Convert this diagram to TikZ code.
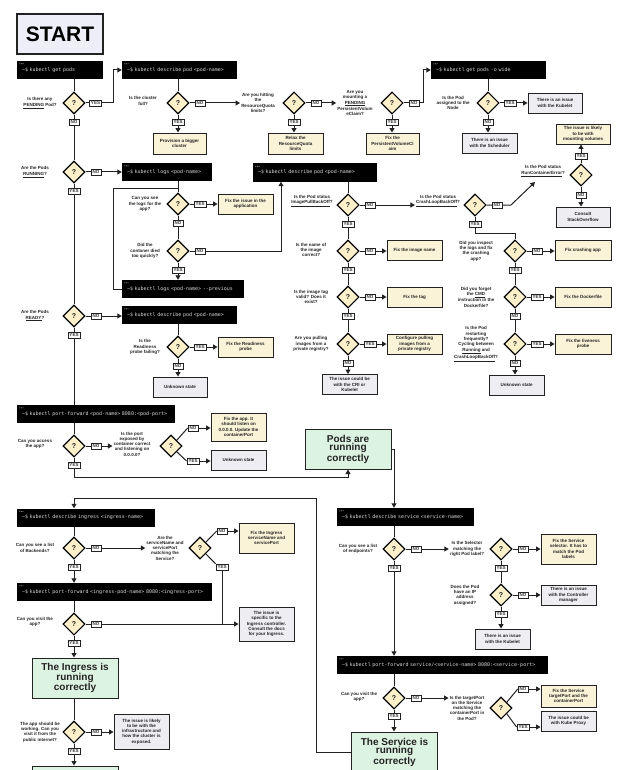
\documentclass[tikz,border=0pt]{standalone}
\usepackage{fontspec}
\setmainfont{Liberation Sans}
\setmonofont{DejaVu Sans Mono}
\usetikzlibrary{arrows.meta,shapes.geometric,calc}
\pgfdeclarelayer{bg}
\pgfdeclarelayer{back}
\pgfsetlayers{back,bg,main}
\definecolor{ink}{HTML}{222222}
\definecolor{qfill}{HTML}{FBF0C9}
\definecolor{fixfill}{HTML}{FBF3D7}
\definecolor{grayfill}{HTML}{EDEDF2}
\definecolor{greenfill}{HTML}{DDF3E2}
\definecolor{startfill}{HTML}{EEEEF8}
\tikzset{
  ln/.style={draw=ink, line width=1pt},
  arr/.style={ln, -{Triangle[length=4.5pt,width=5pt]}},
  q/.style={diamond, draw=black, line width=1.1pt, fill=qfill, minimum width=22pt, minimum height=22pt, inner sep=0pt, font=\bfseries\fontsize{7}{7}\selectfont, text=ink},
  cmd/.style={fill=black, text=white!85!black, font=\ttfamily\fontsize{5}{5}\selectfont, align=left, inner xsep=5pt, inner ysep=0pt, minimum height=18pt},
  res/.style={draw=ink, line width=0.9pt, align=center, inner sep=1pt, font=\bfseries\fontsize{4.5}{5.3}\selectfont, text=ink, minimum height=20pt, minimum width=55pt},
  fix/.style={res, fill=fixfill},
  iss/.style={res, fill=grayfill},
  ok/.style={draw=ink, line width=1pt, fill=greenfill, align=center, font=\bfseries\fontsize{10}{8.6}\selectfont, text=ink, minimum width=86pt, minimum height=40pt, inner sep=0pt},
  ques/.style={align=center, inner sep=1pt, font=\bfseries\fontsize{4.5}{5.3}\selectfont, text=ink},
  yn/.style={draw=ink, fill=white, line width=0.7pt, inner xsep=1.6pt, inner ysep=1.3pt, font=\bfseries\fontsize{4.5}{4.5}\selectfont, text=ink!90},
}
\begin{document}
\begin{tikzpicture}[x=1pt,y=-1pt]
\begin{pgfonlayer}{back}
\fill[white] (0,0) rectangle (633,770);
\end{pgfonlayer}
\useasboundingbox (0,0) rectangle (633,770);

% START
\node[draw=ink, line width=1.3pt, fill=startfill, minimum width=86pt, minimum height=40pt, font=\bfseries\fontsize{21}{21}\selectfont, text=black] (st) at (60,34) {START};

% command boxes
\node[cmd, text width=76pt] (c1) at (60,70) {\textasciitilde\$ kubectl get pods};
\node[cmd, text width=105pt] (c2) at (179.5,70) {\textasciitilde\$ kubectl describe pod <pod-name>};
\node[cmd, text width=105pt] (c3) at (488.5,70) {\textasciitilde\$ kubectl get pods -o wide};
\node[cmd, text width=80pt] (c4) at (167,172) {\textasciitilde\$ kubectl logs <pod-name>};
\node[cmd, text width=114pt] (c5) at (315,172.5) {\textasciitilde\$ kubectl describe pod <pod-name>};
\node[cmd, text width=112pt] (c6) at (183,289) {\textasciitilde\$ kubectl logs <pod-name> -{}-previous};
\node[cmd, text width=105pt] (c7) at (179.5,315) {\textasciitilde\$ kubectl describe pod <pod-name>};
\node[cmd, text width=148pt] (c8) at (96,414) {\textasciitilde\$ kubectl port-forward <pod-name> 8080:<pod-port>};
\node[cmd, text width=128pt] (c9) at (86,517.5) {\textasciitilde\$ kubectl describe ingress <ingress-name>};
\node[cmd, text width=185pt] (c10) at (114.5,592) {\textasciitilde\$ kubectl port-forward <ingress-pod-name> 8080:<ingress-port>};
\node[cmd, text width=127pt] (c11) at (405.5,517) {\textasciitilde\$ kubectl describe service <service-name>};
\node[cmd, text width=201pt] (c12) at (442.5,665) {\textasciitilde\$ kubectl port-forward service/<service-name> 8080:<service-port>};
\foreach \c in {c1,c2,c3,c4,c5,c6,c7,c8,c9,c10,c11,c12}
  \foreach \i in {0,1,2}
    \fill[white!60!black] ($(\c.north west)+(3+1.6*\i,3)$) circle (0.55pt);

% diamonds
\foreach \n/\x/\y in {d1/74/103, d2/178/103, d3/294/103, d4/392/103, d5/488/103,
  d6/74/172, d7/178/204, d8/178/251, d9/74/316, d10/178/347,
  d11/348/205, d12/348/251, d13/348/297, d14/348/344,
  d15/475/205, d16/581/175, d17/515/251, d18/515/297, d19/515/344,
  d20/74/446, d21/171/446, d22/74/548, d23/200/548, d24/74/624, d25/74/732,
  d26/394/549, d27/501/549, d28/501/595, d29/394/698, d30/501/708}
  \node[q] (\n) at (\x,\y) {?};

% questions
\node[ques] (q1) at (40,103) {Is there any\\\underline{PENDING} Pod?};
\node[ques] (q2) at (143,101) {Is the cluster\\full?};
\node[ques] (q3) at (258,103) {Are you hitting\\the\\ResourceQuota\\limits?};
\node[ques] (q4) at (355,103) {Are you\\mounting a\\\underline{PENDING}\\PersistentVolum\\eClaim?};
\node[ques] (q5) at (453,103) {Is the Pod\\assigned to the\\Node};
\node[ques] (q6) at (35,172) {Are the Pods\\\underline{RUNNING}?};
\node[ques] (q7) at (145,204) {Can you see\\the logs for the\\app?};
\node[ques] (q8) at (145,251) {Did the\\contaner died\\too quickly?};
\node[ques] (q9) at (35,316) {Are the Pods\\\underline{READY}?};
\node[ques] (q10) at (145,347) {Is the\\Readiness\\probe failing?};
\node[ques] (q11) at (312,201) {Is the Pod status\\\underline{ImagePullBackOff}?};
\node[ques] (q12) at (311,250) {Is the name of\\the image\\correct?};
\node[ques] (q13) at (311,297) {Is the image tag\\valid? Does it\\exist?};
\node[ques] (q14) at (311,344) {Are you pulling\\images from a\\private registry?};
\node[ques] (q15) at (438,201) {Is the Pod status\\\underline{CrashLoopBackOff}?};
\node[ques] (q16) at (543,171) {Is the Pod status\\\underline{RunContainerError}?};
\node[ques] (q17) at (476,251) {Did you inspect\\the logs and fix\\the crashing\\app?};
\node[ques] (q18) at (476,297) {Did you forget\\the \underline{CMD}\\instruction in the\\Dockerfile?};
\node[ques] (q19) at (476,344) {Is the Pod\\restarting\\frequently?\\Cycling between\\\underline{Running} and\\\underline{CrashLoopBackOff}?};
\node[ques] (q20) at (35,444) {Can you access\\the app?};
\node[ques] (q21) at (132,444) {Is the port\\exposed by\\container correct\\and listening on\\0.0.0.0?};
\node[ques] (q22) at (35,548) {Can you see a list\\of Backends?};
\node[ques] (q23) at (165,548) {Are the\\serviceName and\\servicePort\\matching the\\Service?};
\node[ques] (q24) at (35,622) {Can you visit the\\app?};
\node[ques] (q25) at (40,732) {The app should be\\working. Can you\\visit it from the\\public internet?};
\node[ques] (q26) at (358,549) {Can you see a list\\of endpoints?};
\node[ques] (q27) at (467,549) {Is the Selector\\matching the\\right Pod label?};
\node[ques] (q28) at (465,595) {Does the Pod\\have an IP\\address\\assigned?};
\node[ques] (q29) at (359,697) {Can you visit the\\app?};
\node[ques] (q30) at (467,708) {Is the targetPort\\on the Service\\matching the\\containerPort in\\the Pod?};

% results
\node[fix, minimum width=53pt, minimum height=21pt] (r1) at (179.5,143.5) {Provision a bigger\\cluster};
\node[fix, minimum height=21pt] (r2) at (295.5,143.5) {Relax the\\ResourceQuota\\limits};
\node[fix, minimum width=53pt, minimum height=21pt] (r3) at (392.5,143.5) {Fix the\\PersistentVolumeCl\\aim};
\node[iss, minimum width=54pt] (r4) at (555,103) {There is an issue\\with the Kubelet};
\node[iss] (r5) at (489.5,143) {There is an issue\\with the Scheduler};
\node[fix, minimum width=54pt] (r6) at (583,134) {The issue is likely\\to be with\\mounting volumes};
\node[iss, minimum width=54pt] (r7) at (583,217) {Consult\\StackOverflow};
\node[fix] (r8) at (245.5,204) {Fix the issue in the\\application};
\node[fix] (r9) at (245.5,347) {Fix the Readiness\\probe};
\node[iss, minimum width=54pt] (r10) at (180,387) {Unknown state};
\node[fix] (r11) at (414.5,250) {Fix the image name};
\node[fix] (r12) at (414.5,297) {Fix the tag};
\node[fix] (r13) at (414.5,344) {Configure pulling\\images from a\\private registry};
\node[iss] (r14) at (349.5,384.5) {The issue could be\\with the CRI or\\Kubelet};
\node[fix, minimum width=56pt] (r15) at (583,250) {Fix crashing app};
\node[fix, minimum width=56pt] (r16) at (583,297) {Fix the Dockerfile};
\node[fix, minimum width=56pt] (r17) at (583,344) {Fix the liveness\\probe};
\node[iss] (r18) at (516.5,385) {Unknown state};
\node[fix, minimum height=28pt] (r19) at (238.5,427) {Fix the app. It\\should listen on\\0.0.0.0. Update the\\containerPort};
\node[iss] (r20) at (238.5,460) {Unknown state};
\node[ok] (r21) at (348,449) {Pods are\\running\\correctly};
\node[fix, minimum height=30pt] (r22) at (266.5,538) {Fix the Ingress\\serviceName and\\servicePort};
\node[iss, minimum height=34pt] (r23) at (266.5,624) {The issue is\\specific to the\\Ingress controller.\\Consult the docs\\for your Ingress.};
\node[ok] (r24) at (75,678) {The Ingress is\\running\\correctly};
\node[iss, minimum height=35pt] (r25) at (141.5,731.5) {The issue is likely\\to be with the\\infrastructure and\\how the cluster is\\exposed.};
\node[ok] (r26) at (75,786) {};
\node[fix, minimum height=30pt] (r27) at (568.5,549) {Fix the Service\\selector. It has to\\match the Pod\\labels};
\node[iss] (r28) at (568.5,595) {There is an issue\\with the Controller\\manager};
\node[iss] (r29) at (502.5,639) {There is an issue\\with the Kubelet};
\node[fix, minimum height=22pt] (r30) at (568.5,696) {Fix the Service\\targetPort and the\\containerPort};
\node[iss] (r31) at (568.5,721) {The issue could be\\with Kube Proxy};
\node[ok] (r32) at (394.5,752) {The Service is\\running\\correctly};

% yes / no labels
\foreach \n/\t/\x/\y in {l1/YES/95.5/103, l2/NO/74/122, l3/YES/178/122, l4/NO/200/103,
  l5/YES/294/122, l6/NO/316/103, l7/YES/392/122, l8/NO/414/103, l9/YES/510/103, l10/NO/488/122,
  l11/NO/96/172, l12/YES/74/191, l13/YES/200/204, l14/NO/178/223, l15/NO/200/251, l16/YES/178/270,
  l17/NO/96/316, l18/YES/74/335, l19/YES/200/347, l20/NO/178/366,
  l21/NO/370/205, l22/YES/348/224, l23/NO/370/251, l24/YES/348/270, l25/NO/370/297, l26/YES/348/316,
  l27/YES/370/344, l28/NO/348/363, l29/NO/497/205, l30/YES/475/224, l31/YES/581/156, l32/NO/581/195,
  l33/NO/537/251, l34/YES/515/270, l35/YES/537/297, l36/NO/515/316, l37/YES/537/344, l38/NO/515/363,
  l39/NO/96/446, l40/YES/74/465, l41/NO/193/428, l42/YES/193/461,
  l43/NO/96/548, l44/YES/74/567, l45/NO/222/531, l46/YES/222/567,
  l47/NO/96/624, l48/YES/74/643, l49/NO/96/732, l50/YES/74/751,
  l51/NO/416/549, l52/YES/394/568, l53/NO/523/549, l54/YES/501/568, l55/NO/523/595, l56/YES/501/614,
  l57/NO/416/698, l58/YES/394/716, l59/NO/523/689, l60/YES/523/727}
  \node[yn] (\n) at (\x,\y) {\t};

% free coordinates
\coordinate (k1) at (113,103);
\coordinate (k2) at (423,103);
\coordinate (k3) at (281,251);
\coordinate (k4) at (113,188);
\coordinate (k5) at (178,188);
\coordinate (k6) at (511,205);
\coordinate (k7) at (535,182);
\coordinate (k8) at (475,233);
\coordinate (k9) at (74,477);
\coordinate (k10) at (394,449);
\coordinate (k11) at (316,752);
\coordinate (k12) at (316,498);
\coordinate (k13) at (74,498);
\coordinate (k14) at (113,289);

\begin{pgfonlayer}{bg}
% row 1
\draw[ln] (d1.north) -- (d1.north |- c1.south);
\draw[arr] (d1.east) -- (k1) |- (c2.west);
\draw[ln] (d1.south) -- (d6.north);
\draw[ln] (d2.north) -- (d2.north |- c2.south);
\draw[arr] (d2.south) -- (d2.south |- r1.north);
\draw[arr] (d2.east) -- (q3.west);
\draw[arr] (d3.south) -- (d3.south |- r2.north);
\draw[arr] (d3.east) -- (q4.west);
\draw[arr] (d4.south) -- (d4.south |- r3.north);
\draw[arr] (d4.east) -- (k2) |- (c3.west);
\draw[ln] (d5.north) -- (d5.north |- c3.south);
\draw[arr] (d5.east) -- (r4.west);
\draw[arr] (d5.south) -- (d5.south |- r5.north);
% running
\draw[arr] (d6.east) -- (d6.east -| c4.west);
\draw[ln] (d6.south) -- (d9.north);
\draw[ln] (d7.north) -- (d7.north |- c4.south);
\draw[arr] (d7.east) -- (d7.east -| r8.west);
\draw[ln] (d7.south) -- (d8.north);
\draw[arr] (d8.east) -- (k3) -- (k3 |- c5.south);
\draw[arr] (d8.south) -- (d8.south |- c6.north);
\draw[ln] (c6.west) -- (k14) -- (k4) -- (k5);
% ready
\draw[arr] (d9.east) -- (d9.east -| c7.west);
\draw[ln] (d9.south) -- (d9.south |- c8.north);
\draw[ln] (d10.north) -- (d10.north |- c7.south);
\draw[arr] (d10.east) -- (d10.east -| r9.west);
\draw[arr] (d10.south) -- (d10.south |- r10.north);
% image column
\draw[ln] (d11.north) -- (d11.north |- c5.south);
\draw[arr] (d11.east) -- (d11.east -| q15.west);
\draw[ln] (d11.south) -- (d12.north);
\draw[arr] (d12.east) -- (d12.east -| r11.west);
\draw[ln] (d12.south) -- (d13.north);
\draw[arr] (d13.east) -- (d13.east -| r12.west);
\draw[ln] (d13.south) -- (d14.north);
\draw[arr] (d14.east) -- (d14.east -| r13.west);
\draw[arr] (d14.south) -- (d14.south |- r14.north);
% crashloop column
\draw[arr] (d15.east) -- (k6) -- (k7);
\draw[ln] (d15.south) -- (k8) -| (d17.north);
\draw[arr] (d16.north) -- (d16.north |- r6.south);
\draw[arr] (d16.south) -- (d16.south |- r7.north);
\draw[arr] (d17.east) -- (d17.east -| r15.west);
\draw[ln] (d17.south) -- (d18.north);
\draw[arr] (d18.east) -- (d18.east -| r16.west);
\draw[ln] (d18.south) -- (d19.north);
\draw[arr] (d19.east) -- (d19.east -| r17.west);
\draw[arr] (d19.south) -- (d19.south |- r18.north);
% port-forward pod
\draw[ln] (d20.north) -- (d20.north |- c8.south);
\draw[arr] (d20.east) -- (d20.east -| q21.west);
\draw[ln] (d21.north east) -- (l41.west);
\draw[arr] (l41.east) -- (l41.east -| r19.west);
\draw[ln] (d21.south east) -- (l42.west);
\draw[arr] (l42.east) -- (l42.east -| r20.west);
\draw[arr] (d20.south) -- (k9) -| (r21.south);
\draw[arr] (r21.east) -- (k10) -- (k10 |- c11.north);
% ingress
\draw[arr] (r32.west) -- (k11) -- (k12) -- (k13) -- (c9.north -| k13);
\draw[ln] (d22.north) -- (d22.north |- c9.south);
\draw[arr] (d22.east) -- (d22.east -| q23.west);
\draw[arr] (d22.south) -- (d22.south |- c10.north);
\draw[ln] (d23.north east) -- (l45.west);
\draw[arr] (l45.east) -- (l45.east -| r22.west);
\draw[ln] (d23.south east) -- (l46.north west);
\draw[ln] (l46.south) -- (l46.south |- r23.west);
\draw[ln] (d24.north) -- (d24.north |- c10.south);
\draw[arr] (d24.east) -- (d24.east -| r23.west);
\draw[arr] (d24.south) -- (d24.south |- r24.north);
\draw[ln] (r24.south -| d25) -- (d25.north);
\draw[arr] (d25.east) -- (d25.east -| r25.west);
\draw[arr] (d25.south) -- (d25.south |- r26.north);
% service
\draw[ln] (d26.north) -- (d26.north |- c11.south);
\draw[arr] (d26.east) -- (d26.east -| q27.west);
\draw[arr] (d26.south) -- (d26.south |- c12.north);
\draw[arr] (d27.east) -- (d27.east -| r27.west);
\draw[ln] (d27.south) -- (d28.north);
\draw[arr] (d28.east) -- (d28.east -| r28.west);
\draw[arr] (d28.south) -- (d28.south |- r29.north);
\draw[ln] (d29.north) -- (d29.north |- c12.south);
\draw[arr] (d29.east) -- (d29.east -| q30.west);
\draw[arr] (d29.south) -- (d29.south |- r32.north);
\draw[ln] (d30.north east) -- (l59.west);
\draw[arr] (l59.east) -- (l59.east -| r30.west);
\draw[ln] (d30.south east) -- (l60.west);
\draw[arr] (l60.east) -- (l60.east -| r31.west);
\end{pgfonlayer}
\end{tikzpicture}
\end{document}
